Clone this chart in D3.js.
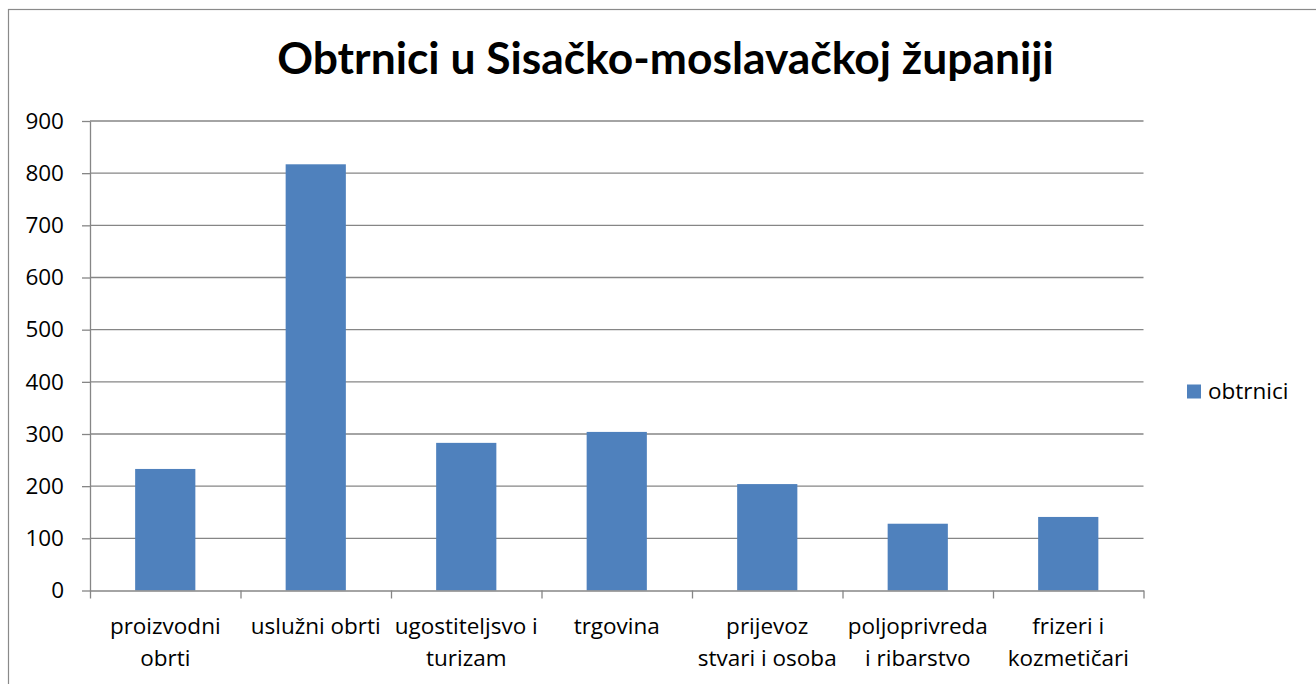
<!DOCTYPE html>
<html>
<head>
<meta charset="utf-8">
<script src="https://cdn.jsdelivr.net/npm/d3@7"></script>
<style>
  html, body { margin: 0; padding: 0; background: #fff; }
  svg { display: block; font-family: "Open Sans", Lato, sans-serif; }
</style>
</head>
<body>
<svg id="chart" width="1316" height="684"></svg>
<script>
const title = "Obtrnici u Sisačko-moslavačkoj županiji";
const seriesName = "obtrnici";
const categories = [
  ["proizvodni", "obrti"],
  ["uslužni obrti"],
  ["ugostiteljsvo i", "turizam"],
  ["trgovina"],
  ["prijevoz", "stvari i osoba"],
  ["poljoprivreda", "i ribarstvo"],
  ["frizeri i", "kozmetičari"]
];
const values = [233, 817, 283, 304, 204, 128, 141];
const yTicks = [0, 100, 200, 300, 400, 500, 600, 700, 800, 900];

const svg = d3.select("#chart");
const mLeft = 90, mRight = 1143.5, mTop = 121, mBottom = 590.5;
const FONT = "'Open Sans', Lato, sans-serif";
const FS = 22.5;

// frame
svg.append("rect").attr("x", 8.5).attr("y", 9.5).attr("width", 1400).attr("height", 800)
  .attr("fill", "none").attr("stroke", "#8a8a8a").attr("stroke-width", 1.2);

const x = d3.scaleBand().domain(d3.range(categories.length)).range([mLeft, mRight]).padding(0);
const y = d3.scaleLinear().domain([0, 900]).range([mBottom, mTop]);

// gridlines
svg.append("g").selectAll("line").data(yTicks.filter(d => d > 0)).join("line")
  .attr("x1", mLeft).attr("x2", mRight)
  .attr("y1", d => y(d)).attr("y2", d => y(d))
  .attr("stroke", "#868686").attr("stroke-width", 1.3);

// bars
const bw = x.bandwidth() * 0.4;
svg.append("g").selectAll("rect").data(values).join("rect")
  .attr("x", (d, i) => x(i) + (x.bandwidth() - bw) / 2)
  .attr("width", bw)
  .attr("y", d => y(d))
  .attr("height", d => y(0) - y(d))
  .attr("fill", "#4F81BD");

// y axis
const yAxis = d3.axisLeft(y).tickValues(yTicks).tickSize(8).tickPadding(18).tickSizeOuter(0);
const gy = svg.append("g").attr("transform", `translate(${mLeft},0)`).call(yAxis);
gy.select(".domain").attr("stroke", "#868686").attr("stroke-width", 1.3);
gy.selectAll(".tick line").attr("stroke", "#868686").attr("stroke-width", 1.3);
gy.selectAll(".tick text").attr("font-size", FS).attr("fill", "#000")
  .attr("font-family", FONT);

// x axis
const xb = d3.scaleLinear().domain([0, categories.length]).range([mLeft, mRight]);
const xAxis = d3.axisBottom(xb).tickValues(d3.range(categories.length + 1)).tickSize(8).tickFormat("").tickSizeOuter(0);
const gx = svg.append("g").attr("transform", `translate(0,${mBottom})`).call(xAxis);
gx.select(".domain").attr("stroke", "#868686").attr("stroke-width", 1.3);
gx.selectAll(".tick line").attr("stroke", "#868686").attr("stroke-width", 1.3);

// category labels
const labels = svg.append("g").selectAll("text").data(categories).join("text")
  .attr("text-anchor", "middle").attr("font-size", FS).attr("fill", "#000")
  .attr("font-family", FONT)
  .attr("x", (d, i) => x(i) + x.bandwidth() / 2)
  .attr("y", 634);
labels.selectAll("tspan").data(d => d).join("tspan")
  .attr("x", function() { return this.parentNode.getAttribute("x"); })
  .attr("dy", (d, i) => i === 0 ? 0 : 32)
  .text(d => d);

// title
const t = svg.append("text").attr("x", 665.5).attr("y", 74).attr("text-anchor", "middle")
  .attr("font-family", "Lato, 'Open Sans', sans-serif")
  .attr("font-size", 40).attr("font-weight", "bold").attr("fill", "#000").text(title);
const tw = t.node().getComputedTextLength();
t.attr("font-size", 40 * 777 / tw);

// legend
svg.append("rect").attr("x", 1187).attr("y", 384.5).attr("width", 14).attr("height", 14).attr("fill", "#4F81BD");
svg.append("text").attr("x", 1208).attr("y", 398.5).attr("font-size", FS).attr("font-family", FONT)
  .attr("fill", "#000").text(seriesName);
</script>
</body>
</html>
